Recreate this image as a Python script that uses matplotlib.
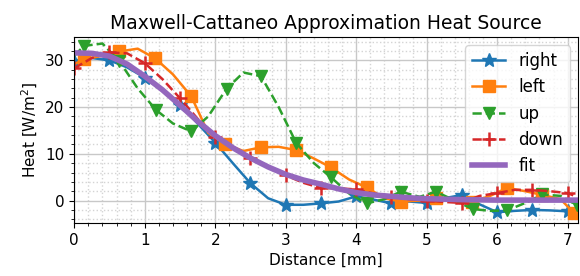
import matplotlib
matplotlib.use("Agg")
import matplotlib.pyplot as plt
from matplotlib.ticker import AutoMinorLocator

# values (distance in mm, heat in W/m^2)
x_right = [0, 0.25, 0.5, 0.75, 1.0, 1.25, 1.5, 1.75, 2.0, 2.25, 2.5, 2.75, 3.0, 3.25, 3.5,
           3.75, 4.0, 4.25, 4.5, 4.75, 5.0, 5.25, 5.5, 5.75, 6.0, 6.25, 6.5, 6.75, 7.0, 7.13]
y_right = [29.9, 30.5, 30.0, 28.5, 26.3, 23.5, 20.5, 16.5, 12.4, 8.0, 3.7, 0.5, -0.9, -0.9, -0.6,
           -0.2, 0.9, 0.2, -0.6, -0.2, -0.5, 0.5, 1.2, -0.8, -2.5, -2.2, -2.0, -2.1, -2.3, -2.5]

x_left = [0, 0.14, 0.4, 0.64, 0.9, 1.15, 1.4, 1.66, 1.9, 2.14, 2.4, 2.65, 2.9, 3.15, 3.4, 3.64,
          3.9, 4.15, 4.4, 4.63, 4.9, 5.13, 5.4, 5.64, 5.9, 6.14, 6.4, 6.64, 6.9, 7.09, 7.15]
y_left = [29.2, 30.2, 31.0, 31.9, 32.5, 30.4, 27.0, 22.3, 14.5, 12.1, 10.6, 11.4, 11.5, 10.8, 9.0, 7.1,
          4.5, 2.8, 0.5, -0.2, 0.0, 0.5, 0.3, -0.3, 1.0, 2.7, 2.0, 1.2, 0.3, -2.7, -3.0]

x_up = [0, 0.14, 0.4, 0.64, 0.9, 1.16, 1.4, 1.66, 1.9, 2.16, 2.4, 2.65, 2.9, 3.15, 3.4, 3.64,
        3.9, 4.15, 4.4, 4.63, 4.9, 5.13, 5.4, 5.65, 5.9, 6.14, 6.4, 6.64, 6.9, 7.13]
y_up = [31.0, 33.1, 33.6, 29.8, 24.0, 19.4, 16.5, 14.8, 18.0, 23.9, 27.4, 26.6, 20.0, 12.3, 8.0, 5.0,
        1.5, -0.6, 0.3, 1.9, 0.8, 1.9, 0.0, -1.8, -2.2, -2.1, -0.5, 1.3, 1.0, -1.0]

x_down = x_right
y_down = [28.3, 30.5, 31.7, 31.5, 29.4, 26.0, 21.9, 17.5, 13.7, 11.3, 9.2, 7.2, 5.4, 3.8, 2.7,
          2.6, 2.4, 1.5, 0.8, 0.3, 0.0, -0.3, -0.5, 1.0, 1.6, 2.3, 2.3, 2.0, 1.6, 0.8]

x_fit = x_right
y_fit = [31.6, 31.5, 30.9, 29.2, 26.6, 23.7, 20.4, 17.0, 13.9, 11.3, 9.1, 7.2, 5.6, 4.4, 3.5,
         2.5, 1.7, 1.2, 0.9, 0.6, 0.4, 0.3, 0.2, 0.15, 0.1, 0.1, 0.1, 0.1, 0.1, 0.1]


def main() -> None:
    plt.rcParams["font.size"] = 11
    fig, ax = plt.subplots(figsize=(5.8, 2.76), dpi=100)
    fig.subplots_adjust(left=0.128, right=0.997, top=0.866, bottom=0.192)

    ax.plot(x_right, y_right, "-", marker="*", markersize=10, markevery=2,
            color="tab:blue", lw=1.8, label="right")
    ax.plot(x_left, y_left, "-", marker="s", markersize=9, markevery=slice(1, None, 2),
            color="tab:orange", lw=1.8, label="left")
    ax.plot(x_up, y_up, "--", marker="v", markersize=9, markevery=slice(1, None, 2),
            color="tab:green", lw=1.8, label="up")
    ax.plot(x_down, y_down, "--", marker="+", markersize=10, mew=1.8, markevery=2,
            color="tab:red", lw=1.8, label="down")
    ax.plot(x_fit, y_fit, "-", color="tab:purple", lw=4, label="fit")

    ax.set_xlim(0, 7.15)
    ax.set_ylim(-4.8, 35)
    ax.xaxis.set_minor_locator(AutoMinorLocator(5))
    ax.yaxis.set_minor_locator(AutoMinorLocator(5))
    ax.grid(which="major", color="#c8c8c8", lw=1)
    ax.grid(which="minor", color="#d4d4d4", ls=":", lw=1)
    ax.set_axisbelow(True)

    ax.set_title("Maxwell-Cattaneo Approximation Heat Source", fontsize=13.5)
    ax.set_xlabel("Distance [mm]")
    ax.set_ylabel("Heat [W/m$^2$]")
    ax.legend(loc="upper right", fontsize=12)

    fig.savefig("out.png", dpi=100)


if __name__ == "__main__":
    main()
